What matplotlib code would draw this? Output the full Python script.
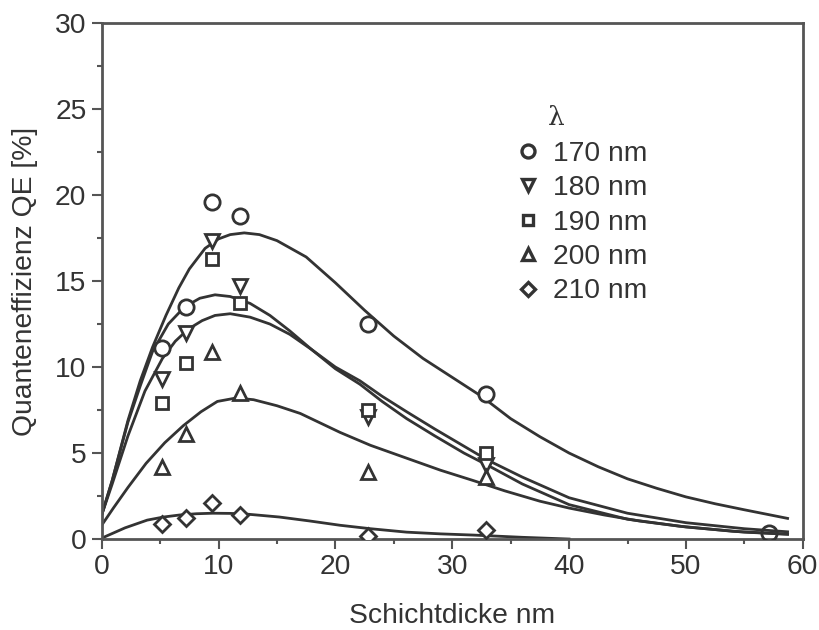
import matplotlib
matplotlib.use("Agg")
import matplotlib.pyplot as plt
from matplotlib.lines import Line2D

plt.rcParams['font.family'] = ['Liberation Sans', 'DejaVu Sans']

INK = '#333333'

# Measured quantum efficiency (layer thickness in nm, QE in %)
x_meas = [5.2, 7.2, 9.4, 11.8, 22.8, 32.9]
qe_170 = [11.1, 13.5, 19.6, 18.8, 12.5, 8.45]
qe_180 = [9.3, 12.0, 17.3, 14.7, 7.1, 4.3]
qe_190 = [7.9, 10.25, 16.3, 13.7, 7.5, 5.0]
qe_200 = [4.2, 6.1, 10.9, 8.5, 3.9, 3.6]
qe_210 = [0.9, 1.2, 2.1, 1.4, 0.2, 0.5]
x_far = [57.1]
qe_170_far = [0.35]

# Model curves
fit_170_x = [0, 0.9, 2.25, 3.3, 4.35, 5.5, 6.6, 7.5, 8.85, 10, 11, 12.2, 13.5, 15, 17.5, 20, 22.5, 25, 27.5, 30, 32.5, 35, 37.5, 40, 42.5, 45, 47.5, 50, 52.5, 55, 58.7]
fit_170_y = [1.4, 3.4, 6.9, 9.2, 11.15, 13.0, 14.6, 15.7, 16.9, 17.45, 17.7, 17.8, 17.7, 17.35, 16.4, 14.9, 13.3, 11.8, 10.5, 9.4, 8.3, 7.0, 5.95, 5.0, 4.2, 3.5, 2.95, 2.45, 2.05, 1.7, 1.2]

fit_180_x = [0, 0.9, 2.25, 3.3, 4.35, 5.7, 7.1, 8.4, 9.7, 11, 12.7, 14.4, 16.1, 18, 20, 22.1, 24, 26.1, 28.5, 31, 33, 36, 40, 45, 50, 55, 58.7]
fit_180_y = [1.4, 3.4, 6.8, 8.9, 10.9, 12.5, 13.5, 14.0, 14.2, 14.1, 13.7, 13.0, 12.1, 11.0, 9.9, 9.0, 8.0, 7.0, 6.0, 5.0, 4.3, 3.2, 2.0, 1.15, 0.7, 0.4, 0.28]

fit_190_x = [0, 0.9, 2.25, 3.7, 5.2, 6.3, 7.4, 8.6, 9.7, 11, 12.7, 14.4, 16.1, 18, 20, 22.1, 24, 26.1, 28.5, 31, 33, 36, 40, 45, 50, 55, 58.7]
fit_190_y = [1.4, 3.2, 6.0, 8.6, 10.5, 11.5, 12.2, 12.7, 13.0, 13.1, 12.9, 12.5, 11.9, 11.0, 10.0, 9.2, 8.3, 7.4, 6.4, 5.4, 4.6, 3.6, 2.4, 1.5, 0.95, 0.6, 0.42]

fit_200_x = [0, 1, 2.25, 3.8, 5.4, 7, 8.5, 9.9, 11.5, 13, 15, 17, 20.4, 23, 26.1, 29, 31.8, 34.5, 37.5, 40, 43, 46, 49.4, 54, 58.7]
fit_200_y = [0.8, 1.8, 3.0, 4.4, 5.6, 6.6, 7.4, 8.0, 8.2, 8.1, 7.75, 7.3, 6.2, 5.45, 4.7, 4.0, 3.4, 2.8, 2.2, 1.8, 1.4, 1.05, 0.75, 0.45, 0.28]

fit_210_x = [0, 2, 3.9, 5.3, 6.7, 8.1, 9.5, 11, 12.4, 15.2, 17.8, 20.4, 23, 26.1, 29, 31.8, 36, 40]
fit_210_y = [0.05, 0.65, 1.1, 1.28, 1.4, 1.47, 1.5, 1.49, 1.45, 1.28, 1.05, 0.8, 0.6, 0.4, 0.3, 0.23, 0.1, 0.0]

labels = ['170 nm', '180 nm', '190 nm', '200 nm', '210 nm']
markers = ['o', 'v', 's', '^', 'D']
sizes = [11, 10, 9, 10, 8]

FS = 20.3

fig = plt.figure(figsize=(8.2, 6.3), dpi=100)
ax = fig.add_axes([0.124, 0.1444, 0.855, 0.819])

for fx, fy in [(fit_170_x, fit_170_y), (fit_180_x, fit_180_y), (fit_190_x, fit_190_y),
               (fit_200_x, fit_200_y), (fit_210_x, fit_210_y)]:
    ax.plot(fx, fy, color=INK, lw=2.0, solid_joinstyle='round', zorder=2)

series = [qe_170, qe_180, qe_190, qe_200, qe_210]
for ys, m, s in zip(series, markers, sizes):
    ax.plot(x_meas, ys, linestyle='none', marker=m, ms=s, mfc='white',
            mec=INK, mew=2.0, zorder=3)
ax.plot(x_far, qe_170_far, linestyle='none', marker='o', ms=11, mfc='none',
        mec=INK, mew=2.0, zorder=3)

ax.set_xlim(0, 60)
ax.set_ylim(0, 30)
ax.set_xticks(range(0, 61, 10))
ax.set_xticks(range(5, 60, 10), minor=True)
ax.set_yticks(range(0, 31, 5))
ax.set_yticks([2.5 + 5 * i for i in range(6)], minor=True)
ax.tick_params(which='major', direction='out', length=7, width=1.5, colors='#555555',
               labelsize=FS, labelcolor=INK, pad=4)
ax.tick_params(which='minor', direction='out', length=3.6, width=1.5, colors='#555555')
for sp in ax.spines.values():
    sp.set_color('#555555')
    sp.set_linewidth(2.0)

ax.set_xlabel('Schichtdicke nm', fontsize=FS, color=INK, labelpad=16)
ax.set_ylabel('Quanteneffizienz QE [%]', fontsize=FS, color=INK, labelpad=12)

handles = [Line2D([], [], linestyle='none', marker=m, ms=s * 0.85, mfc='white',
                  mec=INK, mew=2.4) for m, s in zip(markers, sizes)]
ax.legend(handles, labels, loc='upper left', bbox_to_anchor=(0.572, 0.794),
          frameon=False, fontsize=FS, labelcolor=INK, handlelength=1.0,
          handletextpad=0.4, labelspacing=0.3, borderaxespad=0)
ax.text(0.649, 0.816, 'λ', transform=ax.transAxes, fontsize=19, color=INK,
        ha='center', va='center', family=['DejaVu Serif'])

fig.savefig('out.png', dpi=100, facecolor='white')
